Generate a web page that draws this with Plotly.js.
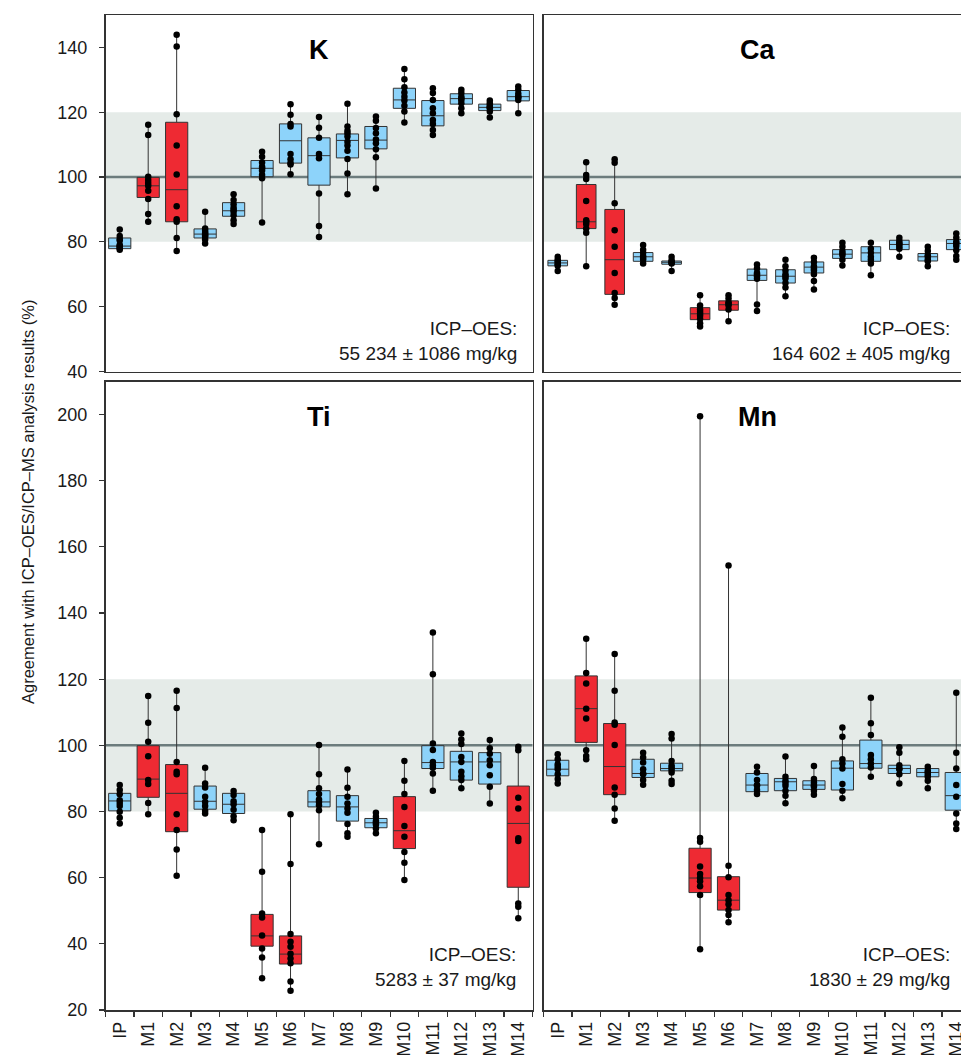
<!DOCTYPE html>
<html>
<head>
<meta charset="utf-8">
<script src="https://cdn.plot.ly/plotly-3.0.1.min.js"></script>
<style>
html,body{margin:0;padding:0;overflow:hidden;background:#fff;}
#chart{width:975px;height:1055px;}
</style>
</head>
<body>
<div id="chart"></div>
<script>
const categories = ['IP','M1','M2','M3','M4','M5','M6','M7','M8','M9','M10','M11','M12','M13','M14'];

// ---- K ----
const K_q1  = [77.9, 93.7, 86.2, 81.2, 87.9, 100.1, 104.3, 97.5, 105.9, 108.7, 121.2, 115.8, 122.5, 120.5, 123.5];
const K_med = [78.7, 97.3, 96.1, 82.4, 89.6, 102.7, 111.2, 106.6, 111.3, 111.4, 123.8, 118.9, 124.2, 121.5, 124.8];
const K_q3  = [81.2, 99.9, 116.9, 84.0, 92.1, 105.1, 116.4, 112.1, 113.3, 115.6, 127.4, 123.6, 125.7, 122.5, 126.7];
const K_points = [
  [83.8, 81.8, 80.9, 80.4, 79.0, 78.7, 78.4, 78.0, 77.6],
  [116.1, 113.0, 100.1, 99.1, 98.2, 97.3, 95.8, 93.2, 88.6, 86.2],
  [143.9, 140.3, 119.4, 109.7, 100.8, 91.0, 87.0, 86.2, 81.2, 77.2],
  [89.3, 84.1, 83.4, 82.8, 82.4, 82.0, 81.6, 80.7, 79.5],
  [94.7, 92.9, 91.6, 90.5, 89.9, 89.3, 88.2, 86.7, 85.5],
  [107.8, 106.3, 104.5, 103.2, 102.7, 102.0, 100.6, 99.6, 86.0],
  [122.5, 119.2, 116.4, 115.6, 107.1, 105.5, 104.3, 103.9, 100.9],
  [118.5, 115.2, 112.1, 107.1, 105.8, 94.9, 84.9, 81.5],
  [122.6, 115.6, 114.3, 113.5, 112.5, 110.9, 109.7, 108.1, 105.6, 101.1, 94.7],
  [118.7, 117.4, 115.1, 113.5, 111.6, 110.4, 108.6, 106.1, 96.5],
  [133.3, 130.2, 127.7, 126.1, 124.8, 123.6, 122.0, 120.2, 116.8],
  [127.4, 125.9, 123.8, 121.2, 119.7, 117.6, 116.4, 114.5, 113.0],
  [126.9, 125.9, 124.8, 124.2, 123.8, 122.8, 121.2, 119.7],
  [123.6, 122.8, 122.0, 121.5, 121.2, 120.2, 118.4],
  [127.9, 126.9, 125.7, 124.8, 124.6, 123.8, 119.7]
];
const K_red = ['M1','M2'];
const K_note = 'ICP\u2013OES:<br>55 234 \u00b1 1086 mg/kg';

// ---- Ca ----
const Ca_q1  = [72.6, 84.1, 63.8, 74.0, 73.1, 56.0, 58.9, 68.1, 67.3, 70.4, 74.9, 74.0, 77.6, 74.1, 77.6];
const Ca_med = [73.5, 86.2, 74.5, 75.4, 73.7, 57.8, 60.6, 69.7, 69.4, 72.2, 76.2, 76.6, 79.2, 75.4, 79.5];
const Ca_q3  = [74.3, 97.7, 90.0, 76.7, 74.1, 59.7, 61.8, 71.6, 71.4, 73.8, 77.6, 78.5, 80.5, 76.4, 80.7];
const Ca_points = [
  [75.4, 74.5, 74.0, 73.5, 73.0, 72.6, 71.0],
  [104.6, 100.6, 99.4, 92.6, 86.7, 86.2, 85.5, 84.1, 82.8, 72.5],
  [105.5, 104.4, 91.9, 83.6, 78.5, 70.4, 64.2, 62.7, 60.6],
  [79.0, 77.6, 76.6, 75.6, 75.0, 74.5, 73.3],
  [75.4, 74.3, 73.9, 73.5, 73.3, 71.0],
  [63.5, 60.4, 59.1, 58.4, 57.8, 57.2, 56.3, 54.9, 53.9],
  [63.5, 62.5, 61.4, 60.9, 60.4, 59.1, 55.5],
  [73.0, 71.8, 70.4, 69.9, 69.4, 68.6, 60.7, 58.7],
  [74.5, 72.5, 71.2, 70.0, 69.4, 68.7, 67.3, 65.9, 63.2],
  [75.1, 73.8, 72.5, 71.8, 71.2, 70.0, 67.9, 65.3],
  [79.7, 78.5, 77.2, 76.5, 75.9, 74.5, 72.7],
  [79.7, 77.9, 76.6, 75.4, 74.5, 73.3, 69.7],
  [81.3, 80.3, 79.6, 79.2, 78.5, 77.9, 75.4],
  [78.5, 77.2, 75.9, 75.4, 74.5, 74.0, 72.5],
  [82.6, 81.3, 80.0, 79.5, 78.7, 77.4, 75.6, 74.5]
];
const Ca_red = ['M1','M2','M5','M6'];
const Ca_note = 'ICP\u2013OES:<br>164 602 \u00b1 405 mg/kg';

// ---- Ti ----
const Ti_q1  = [80.2, 84.3, 73.9, 80.7, 79.4, 39.3, 33.9, 81.4, 77.1, 75.1, 68.8, 93.0, 89.5, 88.3, 57.1];
const Ti_med = [83.2, 89.8, 85.5, 83.1, 82.2, 42.4, 36.9, 82.9, 81.4, 76.6, 74.2, 94.8, 95.0, 95.0, 76.4];
const Ti_q3  = [85.5, 99.9, 94.2, 87.7, 85.5, 48.9, 42.4, 86.3, 84.8, 77.9, 84.5, 99.9, 98.2, 97.8, 87.7];
const Ti_points = [
  [88.0, 86.5, 85.2, 83.4, 82.6, 81.7, 79.9, 78.1, 76.4],
  [114.9, 106.8, 101.1, 96.7, 89.5, 88.3, 82.6, 79.2],
  [116.5, 111.3, 95.0, 92.0, 91.3, 79.2, 74.4, 68.5, 60.6],
  [93.2, 88.5, 87.3, 84.5, 82.9, 81.7, 80.2, 79.4],
  [86.2, 85.0, 83.1, 82.2, 80.5, 78.6, 77.4],
  [74.4, 61.8, 49.2, 48.0, 42.5, 38.6, 35.9, 29.6],
  [79.2, 64.1, 43.0, 40.6, 39.1, 37.0, 35.6, 34.1, 28.6, 25.8],
  [100.1, 91.3, 87.0, 85.3, 83.6, 82.9, 81.9, 80.4, 70.1],
  [92.7, 87.2, 84.5, 82.4, 80.9, 79.6, 76.2, 73.4, 72.4],
  [79.6, 78.4, 77.1, 76.6, 76.1, 74.9, 73.4],
  [95.3, 89.3, 85.3, 81.4, 75.6, 72.4, 67.8, 64.5, 59.3],
  [134.1, 121.5, 100.6, 98.6, 95.0, 94.0, 93.2, 91.5, 86.3],
  [103.6, 101.8, 100.4, 96.5, 95.0, 92.0, 90.7, 89.5, 87.0],
  [101.6, 99.1, 97.5, 95.5, 94.0, 91.0, 87.5, 82.4],
  [99.6, 98.5, 84.2, 80.9, 71.9, 71.1, 52.2, 51.2, 47.7]
];
const Ti_red = ['M1','M2','M5','M6','M10','M14'];
const Ti_note = 'ICP\u2013OES:<br>5283 \u00b1 37 mg/kg';

// ---- Mn ----
const Mn_q1  = [90.8, 100.9, 85.1, 90.3, 92.3, 55.5, 50.2, 86.0, 86.3, 86.7, 86.5, 93.1, 91.5, 90.5, 80.4];
const Mn_med = [92.8, 111.1, 93.6, 91.5, 93.0, 59.9, 53.2, 88.0, 89.0, 88.0, 93.1, 94.5, 93.0, 91.8, 84.8];
const Mn_q3  = [95.5, 121.0, 106.6, 95.8, 94.6, 68.9, 60.3, 91.5, 90.0, 89.3, 95.3, 101.6, 94.0, 93.0, 91.8];
const Mn_points = [
  [97.3, 95.8, 94.3, 93.5, 92.8, 91.3, 89.8, 88.5],
  [132.2, 121.9, 118.7, 111.1, 108.1, 98.5, 96.8, 95.8],
  [127.6, 116.5, 106.9, 106.2, 100.1, 87.3, 85.1, 80.9, 77.2],
  [97.8, 96.3, 94.8, 92.8, 91.5, 91.3, 89.5, 88.1],
  [103.4, 102.1, 95.3, 93.9, 93.3, 92.6, 91.8, 89.3, 88.3],
  [199.5, 72.0, 70.9, 63.4, 61.1, 59.9, 58.9, 57.4, 54.8, 38.4],
  [154.4, 63.6, 60.1, 54.8, 53.2, 52.0, 50.2, 48.7, 46.5],
  [93.5, 91.8, 89.5, 88.0, 87.8, 86.5, 85.3],
  [96.6, 90.5, 89.3, 88.6, 87.8, 86.3, 84.8, 82.5],
  [93.8, 89.8, 88.8, 88.0, 87.6, 86.3, 85.1],
  [105.4, 102.6, 95.8, 94.5, 93.0, 88.3, 86.3, 84.0],
  [114.4, 106.7, 103.1, 97.1, 95.8, 94.5, 93.3, 90.5],
  [99.4, 97.8, 94.0, 93.0, 92.8, 91.3, 88.5],
  [93.5, 92.3, 91.8, 91.1, 90.5, 89.3, 87.0],
  [115.9, 97.8, 93.0, 88.0, 84.5, 79.4, 76.4, 74.7]
];
const Mn_red = ['M1','M2','M5','M6'];
const Mn_note = 'ICP\u2013OES:<br>1830 \u00b1 29 mg/kg';

const topTicks = [40, 60, 80, 100, 120, 140];
const bottomTicks = [20, 40, 60, 80, 100, 120, 140, 160, 180, 200];
const refBand = [80, 120];
const refLine = 100;

// ---- styling / layout ----
const W = 975, H = 1055;
const RED = '#ee2a33', BLUE = '#8dd3fa', EDGE = '#333333';
const FONT = 'Liberation Sans, Arial, Helvetica, sans-serif';
const px = v => v / W;
const py = v => 1 - v / H;

const colL = [px(105.5), px(532.5)];
const colR = [px(543.5), px(970.5)];
const rowT = [py(371.5), py(15)];
const rowB = [py(1010), py(381.5)];

const panels = [
  {name:'K',  q1:K_q1,  med:K_med,  q3:K_q3,  pts:K_points,  red:K_red,  note:K_note,  xa:'x',  ya:'y',  bw:0.78, col:colL, row:rowT, range:[40,150], titleY:50,  noteY:340.5, noteX:518.5},
  {name:'Ca', q1:Ca_q1, med:Ca_med, q3:Ca_q3, pts:Ca_points, red:Ca_red, note:Ca_note, xa:'x2', ya:'y2', bw:0.69, col:colR, row:rowT, range:[40,150], titleY:50,  noteY:340.5, noteX:952},
  {name:'Ti', q1:Ti_q1, med:Ti_med, q3:Ti_q3, pts:Ti_points, red:Ti_red, note:Ti_note, xa:'x3', ya:'y3', bw:0.78, col:colL, row:rowB, range:[20,210], titleY:417, noteY:966.5, noteX:517.5},
  {name:'Mn', q1:Mn_q1, med:Mn_med, q3:Mn_q3, pts:Mn_points, red:Mn_red, note:Mn_note, xa:'x4', ya:'y4', bw:0.78, col:colR, row:rowB, range:[20,210], titleY:417, noteY:966.5, noteX:952}
];

const traces = [];
const shapes = [];
const annotations = [];
const layout = {
  width: W, height: H,
  margin: {l:0, r:0, t:0, b:0},
  paper_bgcolor: '#ffffff', plot_bgcolor: 'rgba(0,0,0,0)',
  showlegend: false, boxmode: 'overlay',
  font: {family: FONT, color: '#1a1a1a', size: 18}
};

panels.forEach((p, i) => {
  const isRight = (i % 2 === 1), isBottom = (i >= 2);
  ['red', 'blue'].forEach(kind => {
    const idx = categories.map((c, j) => j).filter(j => (p.red.indexOf(categories[j]) >= 0) === (kind === 'red'));
    if (!idx.length) return;
    traces.push({
      type: 'box', xaxis: p.xa, yaxis: p.ya,
      x: idx.map(j => categories[j]),
      q1: idx.map(j => p.q1[j]),
      median: idx.map(j => p.med[j]),
      q3: idx.map(j => p.q3[j]),
      lowerfence: idx.map(j => Math.min(...p.pts[j])),
      upperfence: idx.map(j => Math.max(...p.pts[j])),
      boxpoints: false, width: p.bw, whiskerwidth: 0,
      fillcolor: kind === 'red' ? RED : BLUE,
      line: {color: EDGE, width: 1},
      hoverinfo: 'skip'
    });
  });
  const xs = [], ys = [];
  p.pts.forEach((arr, j) => arr.forEach(v => { xs.push(categories[j]); ys.push(v); }));
  traces.push({
    type: 'scatter', mode: 'markers', xaxis: p.xa, yaxis: p.ya,
    x: xs, y: ys, marker: {color: '#000', size: 6.5}, hoverinfo: 'skip'
  });

  const xk = 'xaxis' + (i === 0 ? '' : i + 1);
  const yk = 'yaxis' + (i === 0 ? '' : i + 1);
  layout[xk] = {
    domain: p.col, anchor: p.ya,
    type: 'category', categoryarray: categories, categoryorder: 'array',
    range: [-0.5, categories.length - 0.5], fixedrange: true,
    showgrid: false, zeroline: false,
    showline: true, mirror: true, linecolor: EDGE, linewidth: 1.5,
    ticks: isBottom ? 'outside' : '', tickson: 'boundaries', ticklen: 5, tickwidth: 1.2, tickcolor: EDGE,
    showticklabels: isBottom, tickangle: -90, ticklabelstandoff: 3,
    tickfont: {size: 18, family: FONT, color: '#1a1a1a'}
  };
  layout[yk] = {
    domain: p.row, anchor: p.xa, range: p.range, fixedrange: true,
    showgrid: false, zeroline: false,
    showline: true, mirror: true, linecolor: EDGE, linewidth: 1.5,
    ticks: isRight ? '' : 'outside', ticklen: 5, tickwidth: 1.2, tickcolor: EDGE,
    tickmode: 'array', tickvals: isBottom ? bottomTicks : topTicks,
    showticklabels: !isRight, ticklabelstandoff: 8,
    tickfont: {size: 18, family: FONT, color: '#1a1a1a'}
  };

  shapes.push({type:'rect', xref: p.xa + ' domain', yref: p.ya, x0: 0, x1: 1, y0: refBand[0], y1: refBand[1],
               fillcolor: '#e5ebe8', line: {width: 0}, layer: 'below'});
  shapes.push({type:'line', xref: p.xa + ' domain', yref: p.ya, x0: 0, x1: 1, y0: refLine, y1: refLine,
               line: {color: '#6c7c7d', width: 2.5}, layer: 'below'});

  annotations.push({xref:'paper', yref:'paper', x: (p.col[0] + p.col[1]) / 2, y: py(p.titleY),
    xanchor:'center', yanchor:'middle', showarrow:false, text:'<b>' + p.name + '</b>',
    font:{size: 27, family: FONT, color:'#000'}});
  annotations.push({xref:'paper', yref:'paper', x: px(p.noteX), y: py(p.noteY),
    xanchor:'right', yanchor:'middle', align:'right', showarrow:false, text: p.note,
    font:{size: 19, family: FONT, color:'#1a1a1a'}});
});

// inside half of the crossing x ticks on the bottom panels
const bounds = [];
for (let j = 0; j <= categories.length; j++) bounds.push(j - 0.5);
[['xaxis5','x3','y3'], ['xaxis6','x4','y4']].forEach(([k, ov, an]) => {
  layout[k] = {overlaying: ov, anchor: an, side: 'bottom', range: [-0.5, categories.length - 0.5],
    tickmode: 'array', tickvals: bounds, ticks: 'inside', ticklen: 5, tickwidth: 1.2, tickcolor: EDGE,
    showticklabels: false, showgrid: false, zeroline: false, showline: false, fixedrange: true};
});

annotations.push({xref:'paper', yref:'paper', x: px(28), y: py(502), textangle: -90,
  xanchor:'center', yanchor:'middle', showarrow:false,
  text:'Agreement with ICP\u2013OES/ICP\u2013MS analysis results (%)',
  font:{size: 16.5, family: FONT, color:'#1a1a1a'}});

layout.shapes = shapes;
layout.annotations = annotations;

Plotly.newPlot('chart', traces, layout, {staticPlot: true, displayModeBar: false});
</script>
</body>
</html>
